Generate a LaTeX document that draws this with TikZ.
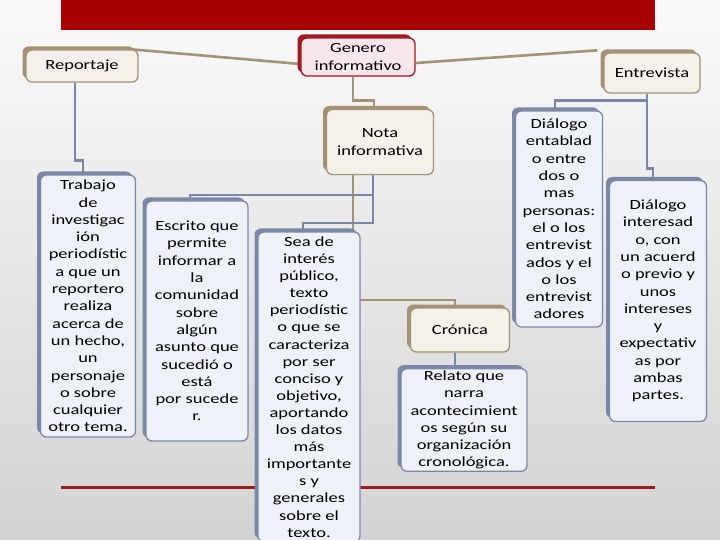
\documentclass[tikz,border=0pt]{standalone}
\usepackage{fontspec}
\setmainfont{Carlito}[FakeStretch=1.32]
\usetikzlibrary{shadows,backgrounds}
\definecolor{banner}{HTML}{A60000}
\definecolor{rule}{HTML}{9B1B1B}
\definecolor{frametan}{HTML}{A39273}
\definecolor{filltan}{HTML}{F4F0EA}
\definecolor{slate}{HTML}{7B88A5}
\definecolor{fillslate}{HTML}{EEF1F7}
\definecolor{wine}{HTML}{A01822}
\definecolor{fillwine}{HTML}{F7E7EA}
\definecolor{bgtop}{HTML}{FAFAFA}
\definecolor{bgbot}{HTML}{D3D3D3}
\tikzset{
  box/.style={rectangle, rounded corners=6pt, line width=1.3pt, inner sep=2pt,
    align=center, font=\fontsize{14}{17.3}\selectfont},
  tb/.style={box, draw=frametan, fill=filltan,
    general shadow={fill=frametan, shadow xshift=-3.5pt, shadow yshift=3.5pt}},
  bb/.style={box, draw=slate, fill=fillslate,
    general shadow={fill=slate, shadow xshift=-3.5pt, shadow yshift=3.5pt}},
  gb/.style={box, draw=wine, fill=fillwine,
    general shadow={fill=wine, shadow xshift=-3.5pt, shadow yshift=3.5pt}},
  et/.style={draw=frametan, line width=2.6pt},
  eb/.style={draw=slate, line width=2.6pt},
}

\begin{document}
\begin{tikzpicture}[x=1pt, y=-1pt]
  \useasboundingbox (0,0) rectangle (720,540);

  % top row
  \node[tb, minimum width=112pt, minimum height=32pt] (rep) at (82,66) {Reportaje};
  \node[gb, minimum width=114pt, minimum height=38pt] (gen) at (358,57) {Genero\\informativo};
  \node[tb, minimum width=96pt, minimum height=40pt] (ent) at (652,73) {Entrevista};
  \node[tb, minimum width=107pt, minimum height=65pt] (nota) at (380,142) {Nota\\informativa};
  \node[tb, minimum width=99pt, minimum height=44pt] (cron) at (460,330) {Crónica};

  % definitions
  \node[bb, minimum width=95pt, minimum height=262pt] (trab) at (88,306)
    {Trabajo\\de\\investigac\\ión\\periodístic\\a que un\\reportero\\realiza\\acerca de\\un hecho,\\un\\personaje\\o sobre\\cualquier\\otro tema.};
  \node[bb, minimum width=102pt, minimum height=240pt] (escr) at (197,321)
    {Escrito que\\permite\\informar a\\la\\comunidad\\sobre\\algún\\asunto que\\sucedió o\\está\\por sucede\\r.};
  \node[bb, minimum width=102pt, minimum height=310pt,
    font=\fontsize{14}{17.1}\selectfont] (sea) at (309,387)
    {Sea de\\interés\\público,\\texto\\periodístic\\o que se\\caracteriza\\por ser\\conciso y\\objetivo,\\aportando\\los datos\\más\\importante\\s y\\generales\\sobre el\\texto.};
  \node[bb, minimum width=126pt, minimum height=100pt] (rel) at (464,420)
    {Relato que\\narra\\acontecimient\\os según su\\organización\\cronológica.};
  \node[bb, minimum width=87pt, minimum height=216pt] (dent) at (559,219)
    {Diálogo\\entablad\\o entre\\dos o\\mas\\personas:\\el o los\\entrevist\\ados y el\\o los\\entrevist\\adores};
  \node[bb, minimum width=97pt, minimum height=241pt] (dint) at (658,301)
    {Diálogo\\interesad\\o, con\\un acuerd\\o previo y\\unos\\intereses\\y\\expectativ\\as por\\ambas\\partes.};

  \begin{pgfonlayer}{background}
    \shade[top color=bgtop, bottom color=bgbot] (0,0) rectangle (720,540);
    \fill[banner] (61,0) rectangle (655,30);
    \draw[rule, line width=3pt] (61,487) -- (655,487);
    % links
    \draw[et] ([xshift=-7pt]rep.north east) -- ([yshift=-7pt]gen.west);
    \draw[et] ([yshift=-6pt]gen.east) -- ([xshift=-6pt,yshift=2pt]ent.north west);
    \draw[et] ([xshift=-5pt]gen.south) -- ++(0,24) -| ([xshift=-6pt]nota.north);
    \draw[et] ([xshift=-27pt]nota.south) -- ++(0,125) -| ([xshift=-5pt]cron.north);
    \draw[eb] ([xshift=-7pt]rep.south) -- ++(0,78) -| ([xshift=-5pt]trab.north);
    \draw[eb] ([xshift=-7pt]nota.south) -- ++(0,20) -| ([xshift=-7pt]escr.north);
    \draw[eb] ([xshift=-7pt]nota.south) -- ++(0,48) -| ([xshift=-6pt]sea.north);
    \draw[eb] ([xshift=-5pt]cron.south) |- (rel.north);
    \draw[eb] ([xshift=-5pt]ent.south) -- ++(0,7) -| ([xshift=-4pt]dent.north);
    \draw[eb] ([xshift=-5pt]ent.south) -- ++(0,75) -| ([xshift=-5pt]dint.north);
  \end{pgfonlayer}
\end{tikzpicture}
\end{document}
